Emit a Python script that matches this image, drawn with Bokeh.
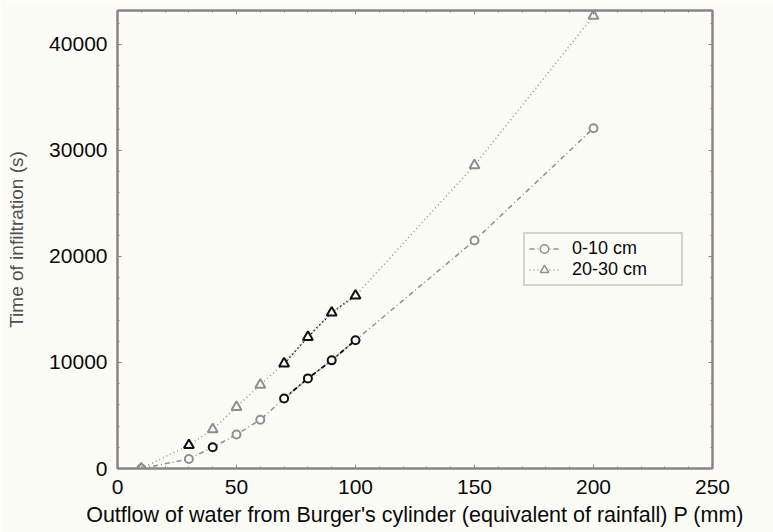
from bokeh.plotting import figure
from bokeh.models import Range1d, LinearAxis, Legend, LegendItem, ColumnDataSource, FixedTicker
from bokeh.embed import file_html
from bokeh.resources import INLINE

# Data
p_mm = [10, 30, 40, 50, 60, 70, 80, 90, 100, 150, 200]
t_0_10 = [0, 900, 2000, 3200, 4600, 6600, 8500, 10200, 12100, 21500, 32100]
t_20_30 = [0, 2200, 3700, 5800, 7900, 9900, 12400, 14700, 16300, 28600, 42700]
dark_0_10 = [40, 70, 80, 90, 100]
dark_20_30 = [30, 70, 80, 90, 100]
x_ticks = [0, 50, 100, 150, 200, 250]
y_ticks = [0, 10000, 20000, 30000, 40000]
x_title = "Outflow of water from Burger's cylinder (equivalent of rainfall) P (mm)"
y_title = "Time of infiltration (s)"

BG = "#fcfcf7"
FRAME = "#8d8288"
GRAY = "#8f8f8f"
FONT = "Liberation Sans"

p = figure(width=773, height=532, output_backend="svg", toolbar_location=None,
           x_range=Range1d(0, 250), y_range=Range1d(0, 43200),
           min_border_left=117, min_border_right=61, min_border_top=10, min_border_bottom=64)
p.background_fill_color = BG
p.border_fill_color = BG
p.outline_line_color = FRAME
p.outline_line_width = 2
p.xgrid.visible = False
p.ygrid.visible = False

for ax in (p.xaxis[0], p.yaxis[0]):
    ax.axis_line_color = FRAME
    ax.axis_line_width = 2
    ax.major_tick_in = 4
    ax.major_tick_out = 0
    ax.minor_tick_in = 2
    ax.minor_tick_out = 0
    ax.major_tick_line_color = FRAME
    ax.minor_tick_line_color = FRAME
    ax.major_label_text_font = FONT
    ax.major_label_text_font_size = "21px"
    ax.major_label_text_color = "#0a0a0a"
    ax.axis_label_text_font = FONT
    ax.axis_label_text_font_style = "normal"

p.xaxis[0].ticker = FixedTicker(ticks=x_ticks, minor_ticks=list(range(0, 251, 10)))
p.yaxis[0].ticker = FixedTicker(ticks=y_ticks, minor_ticks=list(range(0, 43001, 2000)))
p.xaxis[0].major_label_standoff = 11
p.yaxis[0].major_label_standoff = 10

p.xaxis[0].axis_label = x_title
p.xaxis[0].axis_label_text_font_size = "21.5px"
p.xaxis[0].axis_label_text_color = "#0a0a0a"
p.xaxis[0].axis_label_standoff = 6
p.yaxis[0].axis_label = y_title
p.yaxis[0].axis_label_text_font_size = "19px"
p.yaxis[0].axis_label_text_color = "#4f4f4f"
p.yaxis[0].axis_label_standoff = 19

# Mirrored ticks on top and right
for loc in ("right", "above"):
    a = LinearAxis(major_label_text_font_size="0px", axis_line_color=FRAME, axis_line_width=2,
                   major_tick_in=4, major_tick_out=0, minor_tick_in=2, minor_tick_out=0,
                   major_tick_line_color=FRAME, minor_tick_line_color=FRAME)
    if loc == "right":
        a.ticker = FixedTicker(ticks=y_ticks, minor_ticks=list(range(0, 43001, 2000)))
    else:
        a.ticker = FixedTicker(ticks=x_ticks, minor_ticks=list(range(0, 251, 10)))
    p.add_layout(a, loc)

# Lines through all points (gray)
l1 = p.line(p_mm, t_0_10, line_color=GRAY, line_width=1.5, line_dash="5 3 1 3")
l2 = p.line(p_mm, t_20_30, line_color=GRAY, line_width=1.5, line_dash="1 3")

# Darker overlay segments for the 70-100 mm range
sel = [i for i, x in enumerate(p_mm) if 70 <= x <= 100]
p.line([p_mm[i] for i in sel], [t_0_10[i] for i in sel], line_color="#111111", line_width=1.8, line_dash="5 3 1 3")
p.line([p_mm[i] for i in sel], [t_20_30[i] for i in sel], line_color="#111111", line_width=1.8, line_dash="1 3")

c1 = ["#111111" if x in dark_0_10 else GRAY for x in p_mm]
c2 = ["#111111" if x in dark_20_30 else GRAY for x in p_mm]
s1 = ColumnDataSource(dict(x=p_mm, y=t_0_10, c=c1))
s2 = ColumnDataSource(dict(x=p_mm, y=t_20_30, c=c2))
p.scatter("x", "y", source=s1, marker="circle", size=8, fill_color=BG, line_color="c", line_width=2)
p.scatter("x", "y", source=s2, marker="triangle", size=10, fill_color=BG, line_color="c", line_width=2)

# Legend glyph helpers (gray)
lg1 = p.scatter([-100], [-100], marker="circle", size=8, fill_color=BG, line_color=GRAY, line_width=1.5)
lg2 = p.scatter([-100], [-100], marker="triangle", size=8, fill_color=BG, line_color=GRAY, line_width=1.5)

legend = Legend(items=[LegendItem(label="0-10 cm", renderers=[l1, lg1]),
                       LegendItem(label="20-30 cm", renderers=[l2, lg2])],
                location=(406, 182))
legend.label_text_font = FONT
legend.label_text_font_size = "18px"
legend.label_text_color = "#0a0a0a"
legend.border_line_color = "#aaaaaa"
legend.border_line_width = 2
legend.background_fill_color = BG
legend.background_fill_alpha = 1
legend.glyph_width = 30
legend.glyph_height = 21
legend.label_height = 21
legend.label_width = 105
legend.spacing = 0
legend.padding = 4
legend.margin = 0
legend.label_standoff = 13
p.add_layout(legend, "center")

open("out.html", "w").write(file_html(p, INLINE))
